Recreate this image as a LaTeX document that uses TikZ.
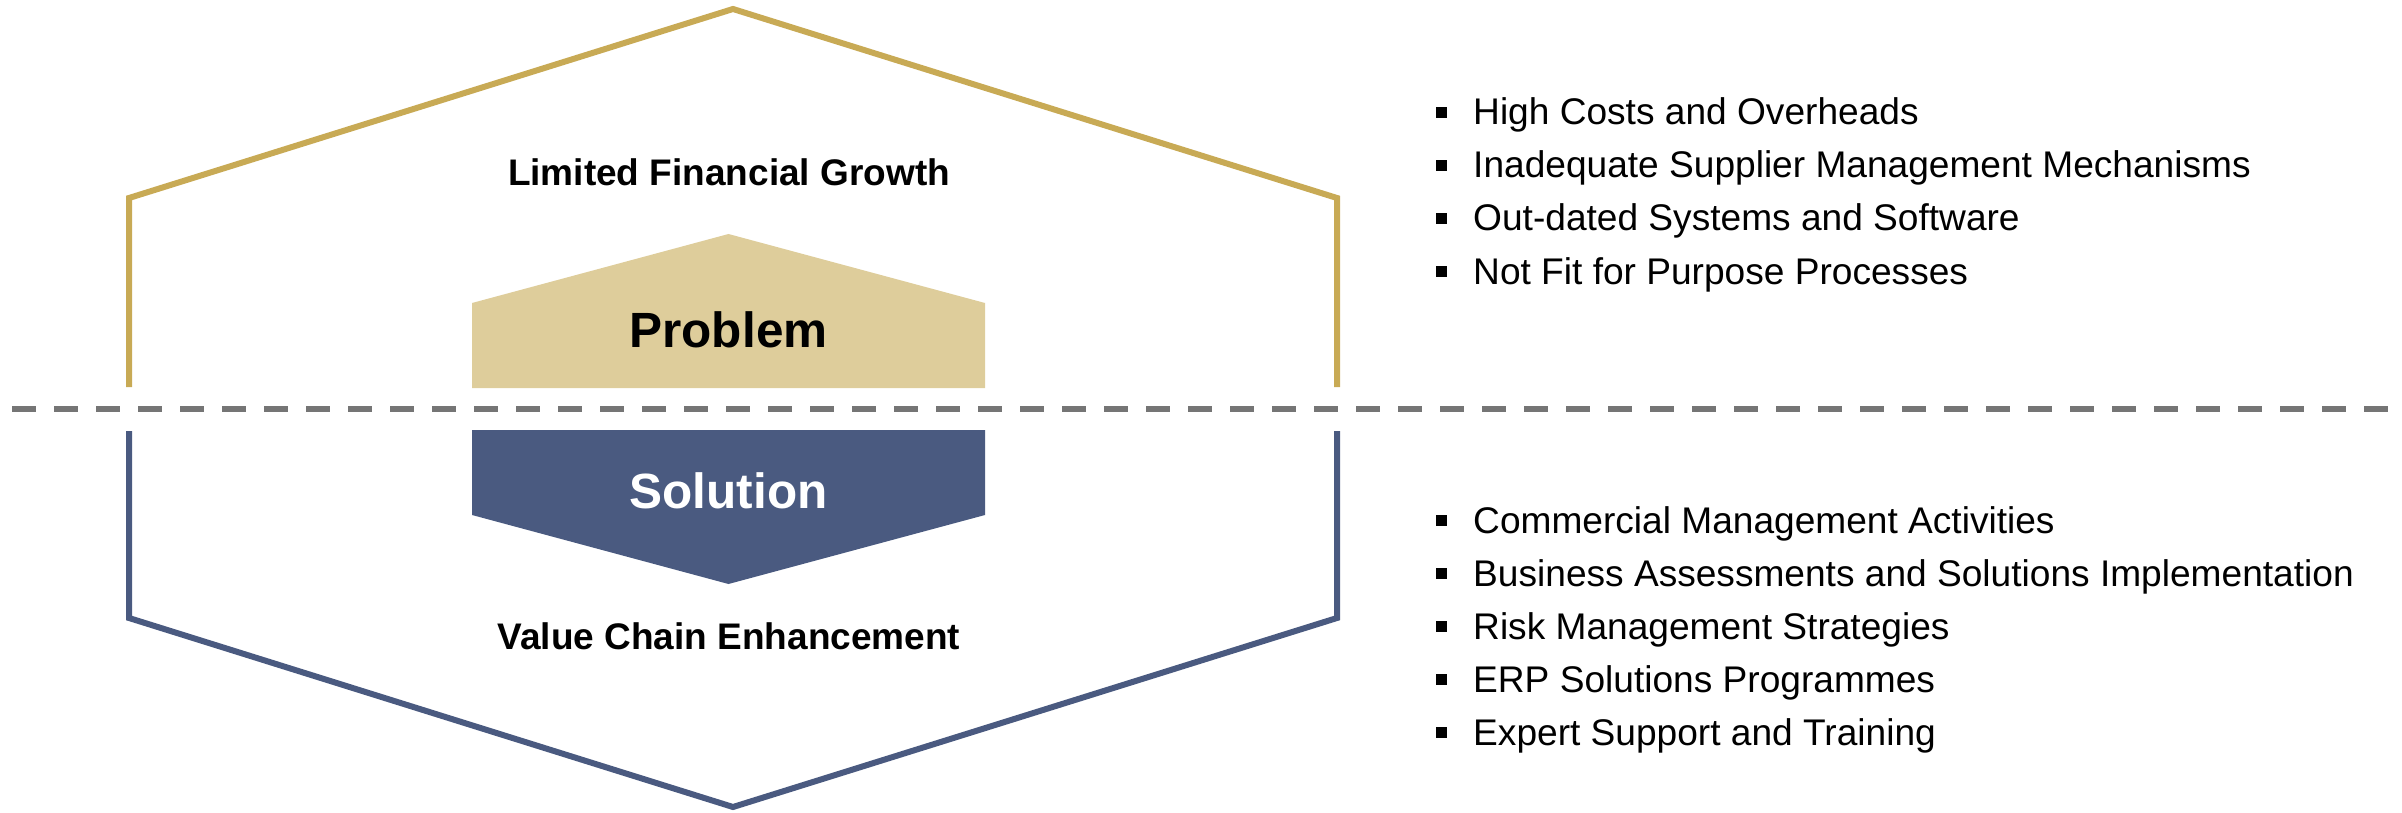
\documentclass[tikz,border=0pt]{standalone}
\usepackage{fontspec}
\setmainfont{Liberation Sans}
\usepackage{xcolor}
\usepackage{tikz}
\usetikzlibrary{positioning}
\definecolor{goldline}{HTML}{C8AA55}
\definecolor{goldfill}{HTML}{DECD9B}
\definecolor{navy}{HTML}{4A5A80}
\definecolor{divider}{HTML}{757575}
\newcommand{\bsq}{\rule[7pt]{11pt}{11pt}\hspace{26pt}}
\tikzset {
  x=1pt, y=-1pt,
  % hexagon halves
  problemline/.style = {draw=goldline, line width=6pt, line join=miter},
  solutionline/.style = {draw=navy, line width=6pt, line join=miter},
  % the two badges
  problembadge/.style = {fill=goldfill},
  solutionbadge/.style = {fill=navy},
  badgetext/.style = {inner sep=0pt, font=\bfseries\fontsize{49.5}{55}\selectfont},
  % headings inside the hexagon
  heading/.style = {inner sep=0pt, font=\bfseries\fontsize{37}{42}\selectfont},
  % bullet lines on the right
  point/.style = {anchor=base west, inner sep=0pt, font=\fontsize{37.1}{42}\selectfont},
  % separator
  divide/.style = {draw=divider, line width=5.5pt, dash pattern=on 24pt off 18pt},
}

\begin{document}
\begin{tikzpicture}
        \useasboundingbox (0,0) rectangle (2402,813);

        % upper half: problem
        \coordinate (pl) at (129,387);
        \coordinate (pls) at (129,198);
        \coordinate (ptop) at (733,9);
        \coordinate (prs) at (1337,198);
        \coordinate (pr) at (1337,387);
        \draw [problemline] (pl) -- (pls) -- (ptop) -- (prs) -- (pr);

        \fill [problembadge] (472,388) -- (472,303) -- (728.5,234) -- (985,303) -- (985,388) -- cycle;
        \node[badgetext] (problem) at (728.5,330) {Problem};
        \node[heading] (growth) at (729,172) {Limited Financial Growth};

        % separator
        \coordinate (dl) at (12,409);
        \coordinate (dr) at (2402,409);
        \draw [divide] (dl) -- (dr);

        % lower half: solution
        \coordinate (sl) at (129,431);
        \coordinate (sls) at (129,618);
        \coordinate (sbot) at (733,807);
        \coordinate (srs) at (1337,618);
        \coordinate (sr) at (1337,431);
        \draw [solutionline] (sl) -- (sls) -- (sbot) -- (srs) -- (sr);

        \fill [solutionbadge] (472,430) -- (472,515) -- (728.5,584) -- (985,515) -- (985,430) -- cycle;
        \node[badgetext, text=white] (solution) at (728.5,491) {Solution};
        \node[heading] (value) at (729,636.5) {Value Chain Enhancement};

        % problem points
        \node[point] (p1) at (1436,125) {\bsq High Costs and Overheads};
        \node[point] (p2) at (1436,178) {\bsq Inadequate Supplier Management Mechanisms};
        \node[point] (p3) at (1436,231) {\bsq Out-dated Systems and Software};
        \node[point] (p4) at (1436,284) {\bsq Not Fit for Purpose Processes};

        % solution points
        \node[point] (s1) at (1436,533) {\bsq Commercial Management Activities};
        \node[point] (s2) at (1436,586) {\bsq Business Assessments and Solutions Implementation};
        \node[point] (s3) at (1436,639) {\bsq Risk Management Strategies};
        \node[point] (s4) at (1436,692) {\bsq ERP Solutions Programmes};
        \node[point] (s5) at (1436,745) {\bsq Expert Support and Training};

      \end{tikzpicture}
\end{document}
